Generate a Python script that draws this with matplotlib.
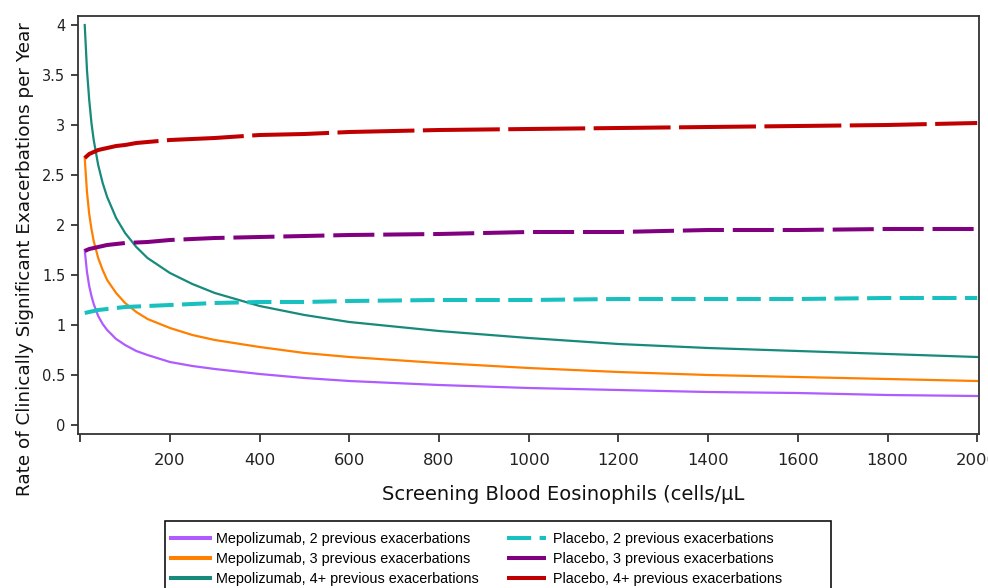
import numpy as np
import matplotlib
matplotlib.use("Agg")
import matplotlib.pyplot as plt
from matplotlib.patches import Rectangle
from matplotlib.ticker import FuncFormatter

# blood eosinophil grid (cells/uL)
eos = [10, 15, 20, 25, 30, 40, 50, 60, 80, 100, 125, 150, 200, 250, 300,
       400, 500, 600, 800, 1000, 1200, 1400, 1600, 1800, 2000]

mepo_2 = [1.75, 1.53, 1.39, 1.29, 1.21, 1.09, 1.01, 0.95, 0.86, 0.80, 0.74,
          0.70, 0.63, 0.59, 0.56, 0.51, 0.47, 0.44, 0.40, 0.37, 0.35, 0.33,
          0.32, 0.30, 0.29]
mepo_3 = [2.67, 2.33, 2.11, 1.96, 1.84, 1.67, 1.55, 1.45, 1.32, 1.22, 1.13,
          1.06, 0.97, 0.90, 0.85, 0.78, 0.72, 0.68, 0.62, 0.57, 0.53, 0.50,
          0.48, 0.46, 0.44]
mepo_4 = [4.00, 3.55, 3.25, 3.02, 2.85, 2.60, 2.42, 2.28, 2.07, 1.92, 1.78,
          1.67, 1.52, 1.41, 1.32, 1.19, 1.10, 1.03, 0.94, 0.87, 0.81, 0.77,
          0.74, 0.71, 0.68]
plac_2 = [1.12, 1.125, 1.13, 1.135, 1.14, 1.15, 1.155, 1.16, 1.17, 1.18,
          1.185, 1.19, 1.20, 1.21, 1.22, 1.23, 1.23, 1.24, 1.25, 1.25, 1.26,
          1.26, 1.26, 1.27, 1.27]
plac_3 = [1.74, 1.75, 1.76, 1.765, 1.77, 1.78, 1.79, 1.80, 1.81, 1.82, 1.825,
          1.83, 1.85, 1.86, 1.87, 1.88, 1.89, 1.90, 1.91, 1.93, 1.93, 1.95,
          1.95, 1.96, 1.96]
plac_4 = [2.67, 2.69, 2.71, 2.72, 2.73, 2.75, 2.76, 2.77, 2.79, 2.80, 2.82,
          2.83, 2.85, 2.86, 2.87, 2.90, 2.91, 2.93, 2.95, 2.96, 2.97, 2.98,
          2.99, 3.00, 3.02]

labels = ["Mepolizumab, 2 previous exacerbations",
          "Mepolizumab, 3 previous exacerbations",
          "Mepolizumab, 4+ previous exacerbations",
          "Placebo, 2 previous exacerbations",
          "Placebo, 3 previous exacerbations",
          "Placebo, 4+ previous exacerbations"]

W, H = 988, 588
fig = plt.figure(figsize=(W / 100, H / 100), dpi=100)
ax = fig.add_axes([78 / W, (H - 434) / H, (979 - 78) / W, (434 - 16) / H])

h1, = ax.plot(eos, mepo_2, color="#ae5cff", lw=1.6)
h2, = ax.plot(eos, mepo_3, color="#ff8000", lw=1.6)
h3, = ax.plot(eos, mepo_4, color="#178a7c", lw=1.6)
h4, = ax.plot(eos, plac_2, color="#18c0c0", lw=2.9, dashes=(6.0, 2.1))
h5, = ax.plot(eos, plac_3, color="#800080", lw=2.9, dashes=(10.2, 2.2))
h6, = ax.plot(eos, plac_4, color="#c00000", lw=2.9, dashes=(19.1, 2.1))

ax.set_xlim(-5, 2004)
ax.set_ylim(-0.09, 4.09)
ax.set_xticks(np.arange(0, 2001, 200))
ax.xaxis.set_major_formatter(FuncFormatter(lambda v, p: "" if v == 0 else "%d" % v))
ax.set_yticks(np.arange(0, 4.01, 0.5))
ax.yaxis.set_major_formatter(FuncFormatter(lambda v, p: "%g" % v))
ax.tick_params(axis="x", direction="out", length=6, width=1.2, labelsize=11.8,
               pad=8, colors="#222222")
ax.tick_params(axis="y", direction="out", length=5, width=1.2, labelsize=10.5,
               pad=4, colors="#222222")
for s in ax.spines.values():
    s.set_color("#333333")
    s.set_linewidth(1.3)

fig.text(25 / W, 1 - 259 / H, "Rate of Clinically Significant Exacerbations per Year",
         rotation=90, ha="center", va="center", fontsize=13.2, color="#111111")
fig.text(563 / W, 1 - 495 / H, "Screening Blood Eosinophils (cells/\u00b5L",
         ha="center", va="center", fontsize=14, color="#111111")

# legend box runs past the bottom edge of the figure
fig.patches.append(Rectangle((165 / W, -0.05), (831 - 165) / W, (H - 521) / H + 0.05,
                             transform=fig.transFigure, fill=False,
                             edgecolor="#111111", lw=1.2))
leg = fig.legend([h1, h2, h3, h4, h5, h6], labels, ncol=2,
                 loc="upper left", bbox_to_anchor=(165 / W, 1 - 526 / H),
                 prop={"family": "Liberation Sans", "size": 10.4},
                 frameon=False, handlelength=2.7, handletextpad=0.42,
                 columnspacing=2.0, labelspacing=0.41, borderpad=0.4, borderaxespad=0)
for lh in leg.get_lines():
    lh.set_linewidth(2.9)

fig.savefig("out.png", dpi=100)
